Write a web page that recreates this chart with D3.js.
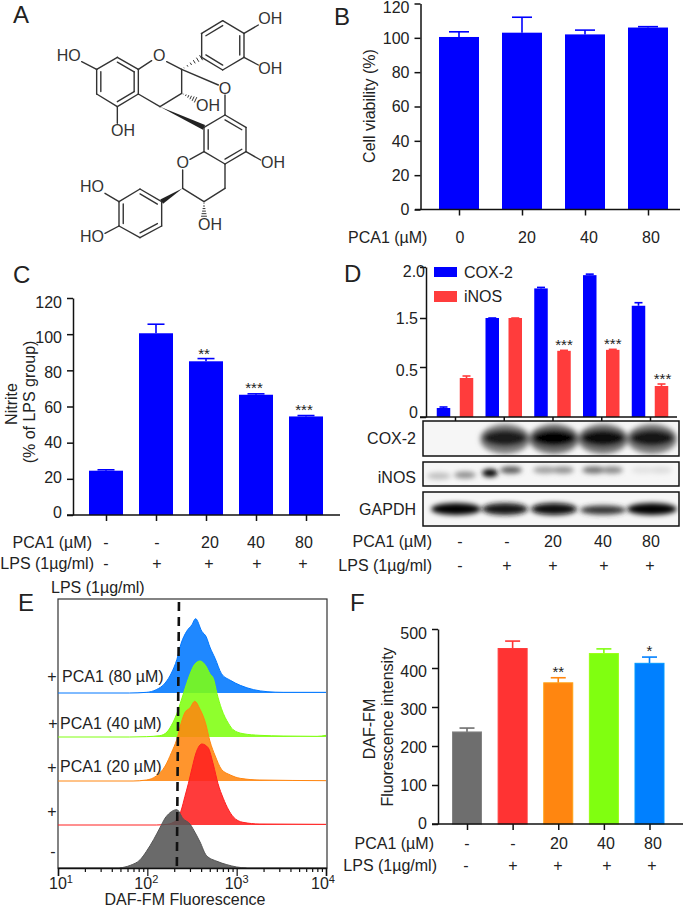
<!DOCTYPE html>
<html><head><meta charset="utf-8">
<script src="https://cdn.jsdelivr.net/npm/d3@7/dist/d3.min.js"></script>
<style>html,body{margin:0;padding:0;background:#fff}svg{display:block}text{font-family:"Liberation Sans",Arial,sans-serif;fill:#222}</style>
</head><body><svg id="c" width="685" height="907"></svg>
<script>
// ---- data ----
const viabilityDose = ["0","20","40","80"];
const viability = [100.5,103,102,106];
const viabilityTop = [103.5,112,104.5,106.5];

const nitrite = [24.5,100.5,85,66.5,54.5];
const nitriteTop = [25,105.5,86.5,67,55];
const nitriteStars = ["","","**","***","***"];

const cox2 = [0.09,1.5,1.79,1.92,1.62];
const cox2Top = [0.1,1.5,1.8,1.93,1.65];
const inos = [0.39,1.5,0.83,0.85,0.31];
const inosTop = [0.41,1.5,0.84,0.86,0.33];
const inosStars = ["","","***","***","***"];
const dTicks = [0,0.5,1.5,2.0];

const cox2BandDensity = [0,0.88,1,0.96,0.9];
const inosBandLeft = [0.22,1,0.36,0.55,0.08];
const inosBandRight = [0.42,0.65,0.42,0.45,0.1];
const gapdhBandDensity = [1,0.92,0.97,0.78,1];

const dafFm = [236,450,362,437,412];
const dafFmTop = [246,469,375,449,428];
const dafFmStars = ["","","**","","*"];
const dafFmColors = ["#6e6e6e","#ff3333","#ff8610","#80ff10","#0080ff"];

const pcaRow = ["-","-","20","40","80"];
const lpsRow = ["-","+","+","+","+"];

const histBlueLog = [1,1.8,1.99,2.10,2.20,2.27,2.33,2.38,2.44,2.50,2.54,2.61,2.66,2.70,2.76,2.83,2.93,3.04,3.19,3.34,3.52,4];
const histBlue = [0,0,2,10,30,60,100,150,185,205,223,185,168,138,103,58,38,23,10,4,2,2];
const histGreenLog = [1,1.8,1.99,2.14,2.22,2.27,2.33,2.38,2.44,2.48,2.53,2.59,2.65,2.70,2.74,2.78,2.83,2.91,2.96,3.07,3.26,3.52,3.90,4];
const histGreen = [0,0,1,4,15,35,70,110,160,190,218,228,215,190,175,130,85,40,22,10,5,3,2,5];
const histOrangeLog = [1,1.84,1.99,2.10,2.20,2.27,2.33,2.38,2.42,2.48,2.53,2.59,2.65,2.70,2.76,2.83,2.93,3.04,3.26,4];
const histOrange = [0,0,3,15,45,85,125,175,205,220,239,215,175,120,75,35,18,8,3,1];
const histRedLog = [1,2.10,2.22,2.33,2.38,2.42,2.46,2.50,2.55,2.61,2.68,2.74,2.79,2.85,2.91,2.96,3.07,3.26,4];
const histRed = [0,0,2,15,45,85,125,170,220,243,232,180,125,80,45,25,8,3,2];
const histGrayLog = [1.69,1.81,1.92,1.99,2.07,2.14,2.20,2.25,2.33,2.40,2.48,2.51,2.59,2.66,2.78,2.89,3.0,3.11];
const histGray = [0,8,25,50,85,120,150,165,175,148,131,118,78,38,20,10,3,0];
const histLabels = ["PCA1 (80 µM)","PCA1 (40 µM)","PCA1 (20 µM)"];

// molecule of panel A: structural diagram (atom sites)
const atoms = {a1:[605,100],a2:[668,62],a3:[732,100],a4:[732,172],a5:[668,210],a6:[605,172],
 c2:[545,208],c3:[545,280],c4:[480,320],c4a:[415,282],c8a:[415,208],c8:[352,172],c7:[290,208],c6:[290,282],c5:[352,320],
 b1:[612,382],b2:[675,345],b3:[738,382],b4:[738,455],b5:[675,492],b6:[612,455],
 e2:[548,565],e3:[612,605],e4:[675,565],
 d1:[485,605],d2:[420,567],d3:[357,605],d4:[357,678],d5:[420,713],d6:[485,678]};
const singleBonds = [["a2","a3"],["a4","a5"],["a6","a1"],["c2","c3"],["c3","c4"],["c4","c4a"],["c8","c7"],["c6","c5"],
 ["b1","b2"],["b3","b4"],["b5","b6"],["b5","e4"],["e4","e3"],["e3","e2"],["d2","d3"],["d4","d5"],["d6","d1"]];
const doubleBonds = [["a1","a2"],["a3","a4"],["a5","a6"],["c4a","c8a"],["c8a","c8"],["c7","c6"],["c5","c4a"],
 ["b1","b6"],["b2","b3"],["b4","b5"],["d1","d2"],["d3","d4"],["d5","d6"]];
const looseBonds = [[[732,100],[775,75]],[[732,172],[775,195]],[[545,208],[655,255]],[[675,285],[675,345]],[[415,208],[455,182]],[[500,185],[545,208]],
 [[290,208],[245,185]],[[352,320],[352,370]],[[738,455],[782,480]],[[612,455],[570,478]],[[548,510],[548,565]],[[357,605],[315,580]],[[357,678],[315,700]]];
const atomLabels = [["OH",811,55],["OH",811,205],["O",478,167],["O",675,265],["OH",624,315],["HO",206,165],["OH",369,390],["OH",819,488],["O",548,488],["OH",630,672],["HO",276,560],["HO",276,708]];

// ---- drawing ----
const svg = d3.select("#c");
const BLUE = "#0000ff", RED = "#ff3c3c", FS = 16;

function txt(x,y,s,o={}){
  const t = svg.append("text").attr("x",x).attr("y",y).attr("font-size",o.size||FS).attr("text-anchor",o.anchor||"start").text(s);
  if(o.rotate) t.attr("transform",`rotate(-90 ${x} ${y})`);
  return t;
}
function row(labels,xs,y){ labels.forEach((s,i)=>txt(xs[i],y,s,{anchor:"middle"})); }
function yAxis(x,scale,ticks,fmt,dy){
  const g = svg.append("g").attr("transform",`translate(${x},0)`)
    .call(d3.axisLeft(scale).tickValues(ticks).tickSize(6).tickSizeOuter(0).tickPadding(5).tickFormat(fmt||d3.format("d")));
  g.selectAll("text").attr("font-size",FS).attr("font-family",null).attr("dy",dy||"0.32em");
  g.select(".domain").attr("stroke","#111").attr("stroke-width",1.5);
  g.selectAll("line").attr("stroke","#111").attr("stroke-width",1.5);
  return g;
}
function xAxis(y,scale,x0,x1,size){
  const g = svg.append("g").attr("transform",`translate(0,${y})`)
    .call(d3.axisBottom(scale).tickSize(size||6).tickSizeOuter(0).tickFormat(""));
  g.select(".domain").remove();
  g.selectAll("line").attr("stroke","#111").attr("stroke-width",1.5);
  g.append("line").attr("x1",x0).attr("x2",x1).attr("stroke","#111").attr("stroke-width",1.5);
  return g;
}
function bars(idx,cx,y,vals,tops,w,cap,color,edge){
  const col = i => typeof color==="function"?color(i):color;
  const g = svg.append("g");
  idx.forEach((k,i)=>{
    g.append("line").attr("x1",cx(k)).attr("x2",cx(k)).attr("y1",y(vals[i])).attr("y2",y(tops[i])).attr("stroke",col(i)).attr("stroke-width",1.6);
    g.append("line").attr("x1",cx(k)-cap/2).attr("x2",cx(k)+cap/2).attr("y1",y(tops[i])).attr("y2",y(tops[i])).attr("stroke",col(i)).attr("stroke-width",1.6);
    g.append("rect").attr("x",cx(k)-w/2).attr("width",w).attr("y",y(vals[i])).attr("height",y(0)-y(vals[i])).attr("fill",col(i))
      .attr("stroke",edge?d3.color(col(i)).brighter(0.5):"none").attr("stroke-width",edge?1:0);
  });
}
function stars(labels,cx,yPos){ labels.forEach((s,i)=>{ if(s) txt(cx(i),yPos(i),s,{anchor:"middle",size:15}); }); }

// panel letters
[["A",13,23],["B",334,25],["C",13,283],["D",344,282],["E",18,611],["F",350,611]].forEach(d=>txt(d[1],d[2],d[0],{size:24}));

// Panel A
(function(){
  const g = svg.append("g").attr("stroke","#333").attr("stroke-width",1.4).attr("fill","none").attr("stroke-linecap","round");
  const P = p => [p[0]/3,p[1]/3];
  const seg = (a,b) => g.append("line").attr("x1",a[0]).attr("y1",a[1]).attr("x2",b[0]).attr("y2",b[1]);
  singleBonds.forEach(b=>seg(P(atoms[b[0]]),P(atoms[b[1]])));
  looseBonds.forEach(b=>seg(P(b[0]),P(b[1])));
  const ringCentre = n => { const k = n[0]; const ids = Object.keys(atoms).filter(i=>i[0]===k && !["c2","c3","c4","e2","e3","e4"].includes(i)); return [d3.mean(ids,i=>atoms[i][0]),d3.mean(ids,i=>atoms[i][1])]; };
  doubleBonds.forEach(b=>{
    const a=P(atoms[b[0]]), c=P(atoms[b[1]]);
    seg(a,c);
    const ctr = ringCentre(b[0]); const m=[ctr[0]/3,ctr[1]/3];
    const f=0.2;
    seg([a[0]+(m[0]-a[0])*f,a[1]+(m[1]-a[1])*f],[c[0]+(m[0]-c[0])*f,c[1]+(m[1]-c[1])*f]);
  });
  // wedges and hashes
  const wedge=(a,b,w)=>{a=P(a);b=P(b);const dx=b[0]-a[0],dy=b[1]-a[1],l=Math.hypot(dx,dy),nx=-dy/l*w,ny=dx/l*w;
    svg.append("path").attr("d",`M${a}L${b[0]+nx},${b[1]+ny}L${b[0]-nx},${b[1]-ny}Z`).attr("fill","#222");};
  const hash=(a,b,w)=>{a=P(a);b=P(b);const dx=b[0]-a[0],dy=b[1]-a[1],l=Math.hypot(dx,dy),nx=-dy/l,ny=dx/l;
    for(let t=0.12;t<=1;t+=0.17){const x=a[0]+dx*t,y=a[1]+dy*t,h=w*t;
      svg.append("line").attr("x1",x+nx*h).attr("y1",y+ny*h).attr("x2",x-nx*h).attr("y2",y-ny*h).attr("stroke","#333").attr("stroke-width",1);}};
  wedge(atoms.c4,atoms.b1,2.6); wedge(atoms.e2,atoms.d1,2.6);
  hash(atoms.c2,atoms.a6,3); hash(atoms.c3,[588,300],3); hash(atoms.e3,[612,650],3);
  atomLabels.forEach(d=>txt(d[1]/3,d[2]/3+5.8,d[0],{anchor:"middle"}).style("fill","#333"));
})();

// Panel B
(function(){
  const y = d3.scaleLinear().domain([0,120]).range([209.5,3.5]);
  const x = d3.scalePoint().domain([0,1,2,3]).range([459,648]);
  bars([0,1,2,3],x,y,viability,viabilityTop,40,20,BLUE);
  yAxis(420.5,y,[0,20,40,60,80,100,120]).selectAll(".tick text").attr("dy",d=>d===120?"0.58em":"0.34em");
  xAxis(209.5,x,415,680);
  txt(375,106,"Cell viability (%)",{anchor:"middle",rotate:true});
  txt(348,243,"PCA1 (µM)");
  row(viabilityDose,[460,527,589,651],243);
})();

// Panel C
(function(){
  const y = d3.scaleLinear().domain([0,120]).range([515,298]);
  const x = d3.scalePoint().domain([0,1,2,3,4]).range([106,306]);
  bars([0,1,2,3,4],x,y,nitrite,nitriteTop,34,17,BLUE);
  yAxis(73,y,[0,20,40,60,80,100,120]).selectAll(".tick text").attr("dy",d=>(0.17+0.43*d/120)+"em");
  xAxis(515,x,67,340);
  txt(17,404,"Nitrite",{anchor:"middle",rotate:true});
  txt(35,402,"(% of LPS group)",{anchor:"middle",rotate:true});
  stars(nitriteStars,i=>x(i)-2,i=>y(nitriteTop[i])-1+(i===2?1:0));
  txt(92,548,"PCA1 (µM)",{anchor:"end"});
  row(pcaRow,[106,157,210,256,304],548);
  txt(94,569,"LPS (1µg/ml)",{anchor:"end"});
  row(lpsRow,[106,157,209,257,303],569);
})();

// Panel D
(function(){
  const y = d3.scaleLinear().domain(dTicks).range([417,367,318,267]);
  const x = d3.scalePoint().domain([0,1,2,3,4]).range([455,650]);
  const xa = i=>x(i)-11.5, xb=i=>x(i)+11.5;
  bars([0,1,2,3,4],xa,y,cox2,cox2Top,13.5,8,BLUE);
  bars([0,1,2,3,4],xb,y,inos,inosTop,13.5,8,RED);
  const ax = yAxis(426,y,dTicks,d3.format(".1f"));
  ax.selectAll(".tick text").attr("dy",d=>d===2?"0.58em":d===1.5?"0.32em":d===0.5?"0.5em":"0.05em")
    .attr("x",d=>d===2?-1:-8).text(d=>d===0?"0":d3.format(".1f")(d));
  xAxis(417,x,420,677,4);
  stars(inosStars,i=>xb(i)+(i===4?1:0),i=>y(inosTop[i]));
  svg.append("rect").attr("x",434).attr("y",267).attr("width",23).attr("height",10).attr("fill",BLUE);
  svg.append("rect").attr("x",434).attr("y",291).attr("width",23).attr("height",11).attr("fill",RED);
  txt(464,278,"COX-2"); txt(464,302,"iNOS");

  // western blots
  const defs = svg.append("defs");
  defs.append("filter").attr("id","blot").attr("x","-30%").attr("y","-80%").attr("width","160%").attr("height","260%")
    .append("feGaussianBlur").attr("stdDeviation","2.4 2.6");
  const lanes = d3.scalePoint().domain([0,1,2,3,4]).range([456,652]);
  const ink = d=>d3.interpolateRgb("#f6f6f6","#000")(Math.min(1,d));
  const blot = (id,top,h,lobes)=>{
    const cp = defs.append("clipPath").attr("id",id);
    cp.append("rect").attr("x",423).attr("y",top).attr("width",256).attr("height",h);
    svg.append("rect").attr("x",423).attr("y",top).attr("width",256).attr("height",h).attr("fill","#f6f6f6");
    const g = svg.append("g").attr("clip-path",`url(#${id})`).append("g").attr("filter","url(#blot)");
    lobes.forEach(l=>g.append("ellipse").attr("cx",l.x).attr("cy",l.y).attr("rx",l.rx).attr("ry",l.ry).attr("fill",ink(l.d)));
    svg.append("rect").attr("x",423).attr("y",top).attr("width",256).attr("height",h).attr("fill","none").attr("stroke","#111").attr("stroke-width",1.5);
  };
  const coxL=[]; cox2BandDensity.forEach((d,i)=>{ if(d>0){
    coxL.push({x:lanes(i),y:439,rx:25,ry:15,d:d*0.55});
    coxL.push({x:lanes(i),y:438,rx:22,ry:8.5,d:d});
  }});
  blot("b1",421,35,coxL);
  const inosL=[];
  inosBandLeft.forEach((d,i)=>inosL.push({x:lanes(i)-(i===0?17:i===1?15:9),y:473+(i===0?3:i>1?-3:0),rx:i===1?8:12,ry:i===1?4:3.5,d}));
  inosBandRight.forEach((d,i)=>inosL.push({x:lanes(i)+(i===1?6:9),y:472+(i===0?3:-2),rx:11,ry:3.5,d}));
  blot("b2",462,24,inosL);
  const gapL=gapdhBandDensity.map((d,i)=>({x:lanes(i),y:509+(i===3?1:0),rx:i===0||i===4?25:23,ry:i===3?4.5:6,d}));
  blot("b3",492,34,gapL);
  txt(416,444,"COX-2",{anchor:"end"}); txt(416,483,"iNOS",{anchor:"end"}); txt(416,515,"GAPDH",{anchor:"end"});

  txt(432,547,"PCA1 (µM)",{anchor:"end"});
  row(pcaRow,[460,507,553,603,651],547);
  txt(432,571,"LPS (1µg/ml)",{anchor:"end"});
  row(lpsRow,[460,507,553,604,650],571);
})();

// Panel E
(function(){
  const x = d3.scaleLog().domain([10,10000]).range([58,326]);
  const h = d3.scaleLinear().domain([0,300]).range([0,100]);
  svg.append("rect").attr("x",58).attr("y",599).attr("width",269).attr("height",269).attr("fill","none").attr("stroke","#333").attr("stroke-width",1.2);
  const series=[[histBlueLog,histBlue,"#0077ff",693],[histGreenLog,histGreen,"#80ff10",737],[histOrangeLog,histOrange,"#ff8610",781],[histRedLog,histRed,"#ff2020",825],[histGrayLog,histGray,"#555555",868]];
  series.forEach(([ls,cs,col,base])=>{
    const pts = ls.map((l,i)=>[x(10**l),base-h(cs[i])]);
    svg.append("path").attr("d",d3.area().x(d=>d[0]).y0(base).y1(d=>d[1]).curve(d3.curveMonotoneX)(pts)).attr("fill",col).attr("fill-opacity",0.88);
    svg.append("path").attr("d",d3.line().x(d=>d[0]).y(d=>d[1]).curve(d3.curveMonotoneX)(pts)).attr("fill","none").attr("stroke",col).attr("stroke-width",1);
  });
  svg.append("line").attr("x1",x(226)).attr("x2",x(214)).attr("y1",602).attr("y2",868).attr("stroke","#111").attr("stroke-width",2.6).attr("stroke-dasharray","9 6");
  const major=[10,100,1000,10000];
  const minor=[];major.slice(0,3).forEach(m=>d3.range(2,10).forEach(k=>minor.push(m*k)));
  const g = svg.append("g").attr("transform","translate(0,868)");
  g.call(d3.axisBottom(x).tickValues(major).tickSize(8).tickFormat(""));
  g.append("g").call(d3.axisBottom(x).tickValues(minor).tickSize(4).tickFormat("")).select(".domain").remove();
  g.selectAll("line").attr("stroke","#111").attr("stroke-width",1.2);
  g.selectAll(".domain").attr("stroke","#111").attr("stroke-width",1.5);
  major.forEach((m,i)=>{
    const off=[3,-1,0,-3][i];
    const t=txt(x(m)+off,889,"10",{anchor:"middle"});
    t.append("tspan").attr("dy",-6).attr("font-size",11).text(String(i+1));
  });
  txt(185,905,"DAF-FM Fluorescence",{anchor:"middle"});
  txt(51,593,"LPS (1µg/ml)");
  txt(62,682,histLabels[0]); txt(60,729,histLabels[1]); txt(60,772,histLabels[2]);
  txt(52,682,"+",{anchor:"middle"}); txt(53,729,"+",{anchor:"middle"}); txt(52,773,"+",{anchor:"middle"});
  txt(52,817,"+",{anchor:"middle"}); txt(53,857,"-",{anchor:"middle"});
})();

// Panel F
(function(){
  const y = d3.scaleLinear().domain([0,500]).range([824,629]);
  const x = d3.scalePoint().domain([0,1,2,3,4]).range([467,649.5]);
  bars([0,1,2,3,4],x,y,dafFm,dafFmTop,29,15,i=>dafFmColors[i],true);
  yAxis(438,y,[0,100,200,300,400,500]).selectAll(".tick text").attr("dy",d=>(0.29+0.32*d/500)+"em");
  xAxis(824,x,432,683);
  txt(375,729,"DAF-FM",{anchor:"middle",rotate:true});
  txt(393,727,"Fluorescence intensity",{anchor:"middle",rotate:true});
  stars(dafFmStars,x,i=>y(dafFmTop[i])-1);
  txt(434,849,"PCA1 (µM)",{anchor:"end"});
  row(pcaRow,[467,513,559,606,653],849);
  txt(437,871,"LPS (1µg/ml)",{anchor:"end"});
  row(lpsRow,[466,513,558,607,652],871);
})();
</script></body></html>
